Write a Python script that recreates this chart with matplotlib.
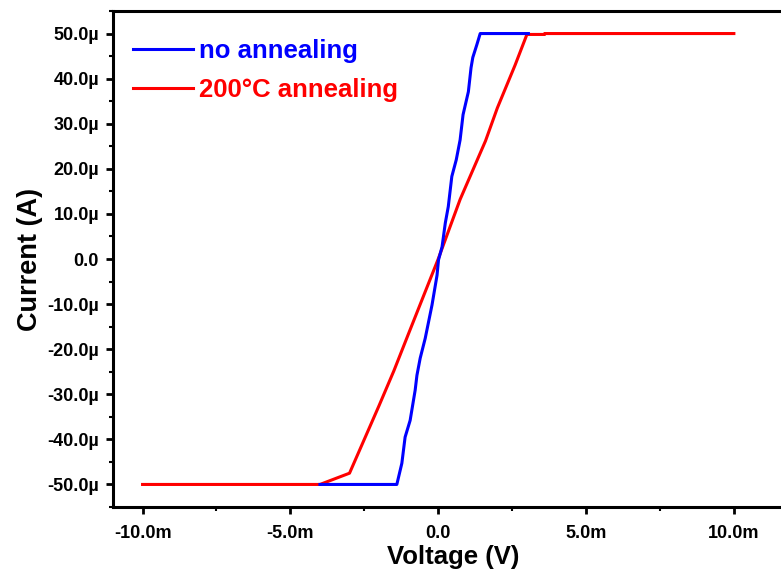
#!/usr/bin/env python3
"""I-V sweep of the device before and after a 200 C anneal."""

import matplotlib

matplotlib.use("Agg")
import matplotlib.pyplot as plt
from matplotlib.ticker import FuncFormatter, MultipleLocator

# voltage in mV, current in uA
no_anneal_v = [-4.0, -1.40, -1.23, -1.12, -0.95, -0.78, -0.72, -0.61, -0.44,
               -0.21, -0.04, 0.01, 0.13, 0.24, 0.34, 0.46, 0.61, 0.74, 0.84,
               1.02, 1.11, 1.17, 1.31, 1.42, 3.05]
no_anneal_i = [-50.0, -50.0, -45.3, -39.5, -35.8, -29.1, -25.8, -22.0, -17.6,
               -10.2, -3.6, -0.2, 2.7, 8.0, 11.6, 18.3, 22.0, 26.4, 32.0,
               37.1, 42.4, 44.7, 47.6, 50.0, 50.0]

anneal_v = [-10.0, -4.0, -3.0, -2.0, -1.5, -1.0, 0.0, 0.74, 1.6, 2.0, 2.6,
            3.0, 3.6, 3.6, 10.0]
anneal_i = [-50.0, -50.0, -47.5, -32.5, -24.8, -16.5, 0.0, 13.2, 26.2, 33.5,
            43.0, 49.8, 49.8, 50.0, 50.0]

x_ticks = [-10, -5, 0, 5, 10]
y_ticks = [-50, -40, -30, -20, -10, 0, 10, 20, 30, 40, 50]


def si_label(suffix):
    def fmt(value, _pos):
        if abs(value) < 1e-9:
            return "0.0"
        return f"{value:.1f}".replace("\u2212", "-") + suffix
    return FuncFormatter(fmt)


def main():
    plt.rcParams["font.family"] = ["Liberation Sans", "DejaVu Sans"]
    plt.rcParams["font.weight"] = "bold"

    fig = plt.figure(figsize=(7.81, 5.75), dpi=100)
    ax = fig.add_axes([113 / 781, 68 / 575, 680 / 781, 496 / 575])

    ax.plot(no_anneal_v, no_anneal_i, color="#0000ff", lw=2.2,
            label="no annealing", zorder=3)
    ax.plot(anneal_v, anneal_i, color="#ff0000", lw=2.2,
            label="200°C annealing", zorder=2)

    ax.set_xlim(-11, 12)
    ax.set_ylim(-55, 55)
    ax.set_xticks(x_ticks)
    ax.set_yticks(y_ticks)
    ax.xaxis.set_minor_locator(MultipleLocator(2.5))
    ax.yaxis.set_minor_locator(MultipleLocator(5))
    ax.xaxis.set_major_formatter(si_label("m"))
    ax.yaxis.set_major_formatter(si_label("µ"))

    for side in ("left", "bottom", "top", "right"):
        ax.spines[side].set_linewidth(2.2)
    ax.tick_params(which="major", direction="out", length=5, width=2,
                   labelsize=13, pad=5)
    ax.tick_params(which="minor", direction="out", length=3, width=1.5)
    ax.tick_params(axis="x", which="major", pad=8)
    for lbl in ax.get_xticklabels() + ax.get_yticklabels():
        lbl.set_fontweight("bold")

    ax.set_xlabel("Voltage (V)", fontsize=18.5, fontweight="bold", labelpad=2)
    ax.set_ylabel("Current (A)", fontsize=19.5, fontweight="bold", labelpad=3)

    leg = ax.legend(loc="upper left", frameon=False, fontsize=18.5,
                    handlelength=2.3, handletextpad=0.25, labelspacing=0.6,
                    borderaxespad=0.0, bbox_to_anchor=(0.015, 0.965))
    for text, line in zip(leg.get_texts(), leg.get_lines()):
        text.set_color(line.get_color())
        text.set_fontweight("bold")

    fig.savefig("out.png", dpi=100)


if __name__ == "__main__":
    main()
